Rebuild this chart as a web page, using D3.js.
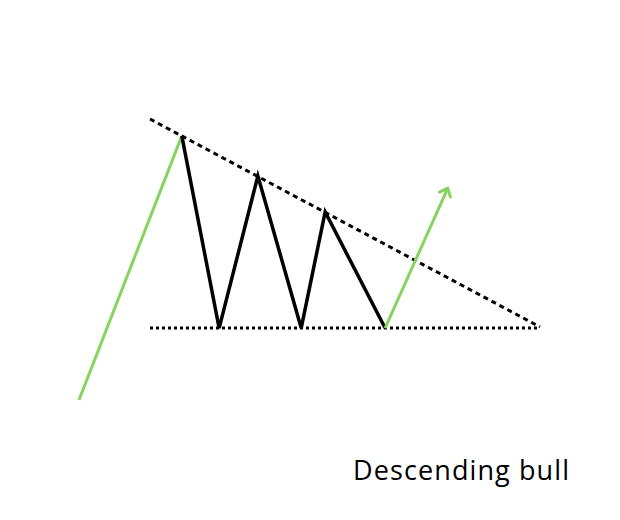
<!DOCTYPE html>
<html><head><meta charset="utf-8">
<script src="https://cdn.jsdelivr.net/npm/d3@7"></script>
<style>html,body{margin:0;padding:0;background:#fff;}</style>
</head><body>
<svg id="c" width="620" height="520"></svg>
<script>
// Data (time units 0..100, price units 0..100)
const priorTrendX = [0, 22.3];
const priorTrendY = [0, 94];
const zigzagX = [22.3, 30.4, 38.8, 48.2, 53.4, 66.4];
const zigzagY = [94, 25.6, 79.7, 25.6, 66.9, 25.6];
const breakoutX = [66.4, 80.0];
const breakoutY = [25.6, 75.4];
const resistanceX = [15.4, 100];
const resistanceY = [100, 26];
const supportX = [15.4, 100];
const supportY = [25.6, 25.6];
const title = "Descending bull";

const svg = d3.select("#c");
const x = d3.scaleLinear().domain([0, 100]).range([79, 540]);
const y = d3.scaleLinear().domain([0, 100]).range([400, 119]);
const line = d3.line().x(d => x(d[0])).y(d => y(d[1]));
const zip = (a, b) => a.map((v, i) => [v, b[i]]);

svg.append("defs").append("marker")
  .attr("id", "arr").attr("viewBox", "-10 -10 20 20")
  .attr("markerWidth", 20).attr("markerHeight", 20)
  .attr("markerUnits", "userSpaceOnUse")
  .attr("refX", 0).attr("refY", 0).attr("orient", "auto")
  .append("path").attr("d", "M-7,-6 L0,0 L-7,6")
  .attr("fill", "none").attr("stroke", "#86d45f").attr("stroke-width", 3)
  .attr("stroke-linecap", "round").attr("stroke-linejoin", "round");

svg.append("path").datum(zip(resistanceX, resistanceY)).attr("d", line)
  .attr("fill", "none").attr("stroke", "#000").attr("stroke-width", 3)
  .attr("stroke-dasharray", "5,4");
svg.append("path").datum(zip(supportX, supportY)).attr("d", line)
  .attr("fill", "none").attr("stroke", "#000").attr("stroke-width", 3)
  .attr("stroke-dasharray", "3,3");
svg.append("path").datum(zip(priorTrendX, priorTrendY)).attr("d", line)
  .attr("fill", "none").attr("stroke", "#86d45f").attr("stroke-width", 3);
svg.append("path").datum(zip(zigzagX, zigzagY)).attr("d", line)
  .attr("fill", "none").attr("stroke", "#000").attr("stroke-width", 3.5)
  .attr("stroke-linejoin", "miter");
svg.append("path").datum(zip(breakoutX, breakoutY)).attr("d", line)
  .attr("fill", "none").attr("stroke", "#86d45f").attr("stroke-width", 3)
  .attr("marker-end", "url(#arr)");

svg.append("text").attr("x", 353).attr("y", 480)
  .attr("font-family", "'Open Sans', sans-serif").attr("font-size", 27)
  .attr("textLength", 216).attr("lengthAdjust", "spacing")
  .attr("fill", "#000").text(title);
</script>
</body></html>
